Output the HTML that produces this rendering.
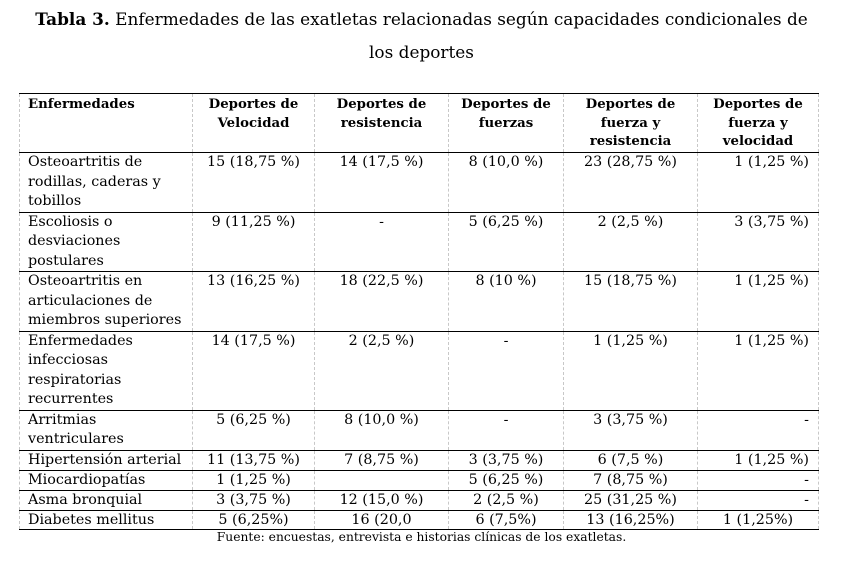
<!DOCTYPE html>
<html><head><meta charset="utf-8"><style>
body{margin:0;width:843px;height:562px;background:#fff;font-family:"DejaVu Serif",serif;color:#000;position:relative;overflow:hidden}
.title{position:absolute;top:3px;left:0;width:843px;text-align:center;font-size:16.9px;line-height:33px;white-space:nowrap}
table{position:absolute;left:19px;top:93px;border-collapse:collapse;table-layout:fixed;width:799px;font-size:14.3px;line-height:19.5px}
td,th{border-left:1px dashed #c8c8c8;border-right:1px dashed #c8c8c8;border-top:1px solid #000;border-bottom:1px solid #000;vertical-align:top;padding:0 4px;overflow:hidden;white-space:nowrap}
th{font-size:13.3px;line-height:18.5px;padding-top:2px;text-align:center}
th:first-child,td:first-child{text-align:left;padding-left:8px}
td{text-align:center;padding-top:0}
td.r{text-align:right;padding-right:9px}
tr.s td{line-height:18px}
.src{position:absolute;top:529px;left:0;width:843px;text-align:center;font-size:12.3px;line-height:16px}
</style></head><body>
<div class="title"><b>Tabla 3.</b> Enfermedades de las exatletas relacionadas según capacidades condicionales de<br>los deportes</div>
<table>
<colgroup><col style="width:173px"><col style="width:122px"><col style="width:134px"><col style="width:115px"><col style="width:134px"><col style="width:121px"></colgroup>
<tr style="height:59px"><th>Enfermedades</th><th>Deportes de<br>Velocidad</th><th>Deportes de<br>resistencia</th><th>Deportes de<br>fuerzas</th><th>Deportes de<br>fuerza y<br>resistencia</th><th>Deportes de<br>fuerza y<br>velocidad</th></tr>
<tr style="height:59px"><td>Osteoartritis de<br>rodillas, caderas y<br>tobillos</td><td>15 (18,75 %)</td><td>14 (17,5 %)</td><td>8 (10,0 %)</td><td>23 (28,75 %)</td><td class="r">1 (1,25 %)</td></tr>
<tr style="height:59px"><td>Escoliosis o<br>desviaciones<br>postulares</td><td>9 (11,25 %)</td><td>-</td><td>5 (6,25 %)</td><td>2 (2,5 %)</td><td class="r">3 (3,75 %)</td></tr>
<tr style="height:59px"><td>Osteoartritis en<br>articulaciones de<br>miembros superiores</td><td>13 (16,25 %)</td><td>18 (22,5 %)</td><td>8 (10 %)</td><td>15 (18,75 %)</td><td class="r">1 (1,25 %)</td></tr>
<tr style="height:78px"><td>Enfermedades<br>infecciosas<br>respiratorias<br>recurrentes</td><td>14 (17,5 %)</td><td>2 (2,5 %)</td><td>-</td><td>1 (1,25 %)</td><td class="r">1 (1,25 %)</td></tr>
<tr style="height:40px"><td>Arritmias<br>ventriculares</td><td>5 (6,25 %)</td><td>8 (10,0 %)</td><td>-</td><td>3 (3,75 %)</td><td class="r">-</td></tr>
<tr class="s" style="height:20px"><td>Hipertensión arterial</td><td>11 (13,75 %)</td><td>7 (8,75 %)</td><td>3 (3,75 %)</td><td>6 (7,5 %)</td><td class="r">1 (1,25 %)</td></tr>
<tr class="s" style="height:20px"><td>Miocardiopatías</td><td>1 (1,25 %)</td><td></td><td>5 (6,25 %)</td><td>7 (8,75 %)</td><td class="r">-</td></tr>
<tr class="s" style="height:20px"><td>Asma bronquial</td><td>3 (3,75 %)</td><td>12 (15,0 %)</td><td>2 (2,5 %)</td><td>25 (31,25 %)</td><td class="r">-</td></tr>
<tr class="s" style="height:19px"><td>Diabetes mellitus</td><td>5 (6,25%)</td><td>16 (20,0</td><td>6 (7,5%)</td><td>13 (16,25%)</td><td>1 (1,25%)</td></tr>
</table>
<div class="src">Fuente: encuestas, entrevista e historias clínicas de los exatletas.</div>
</body></html>
